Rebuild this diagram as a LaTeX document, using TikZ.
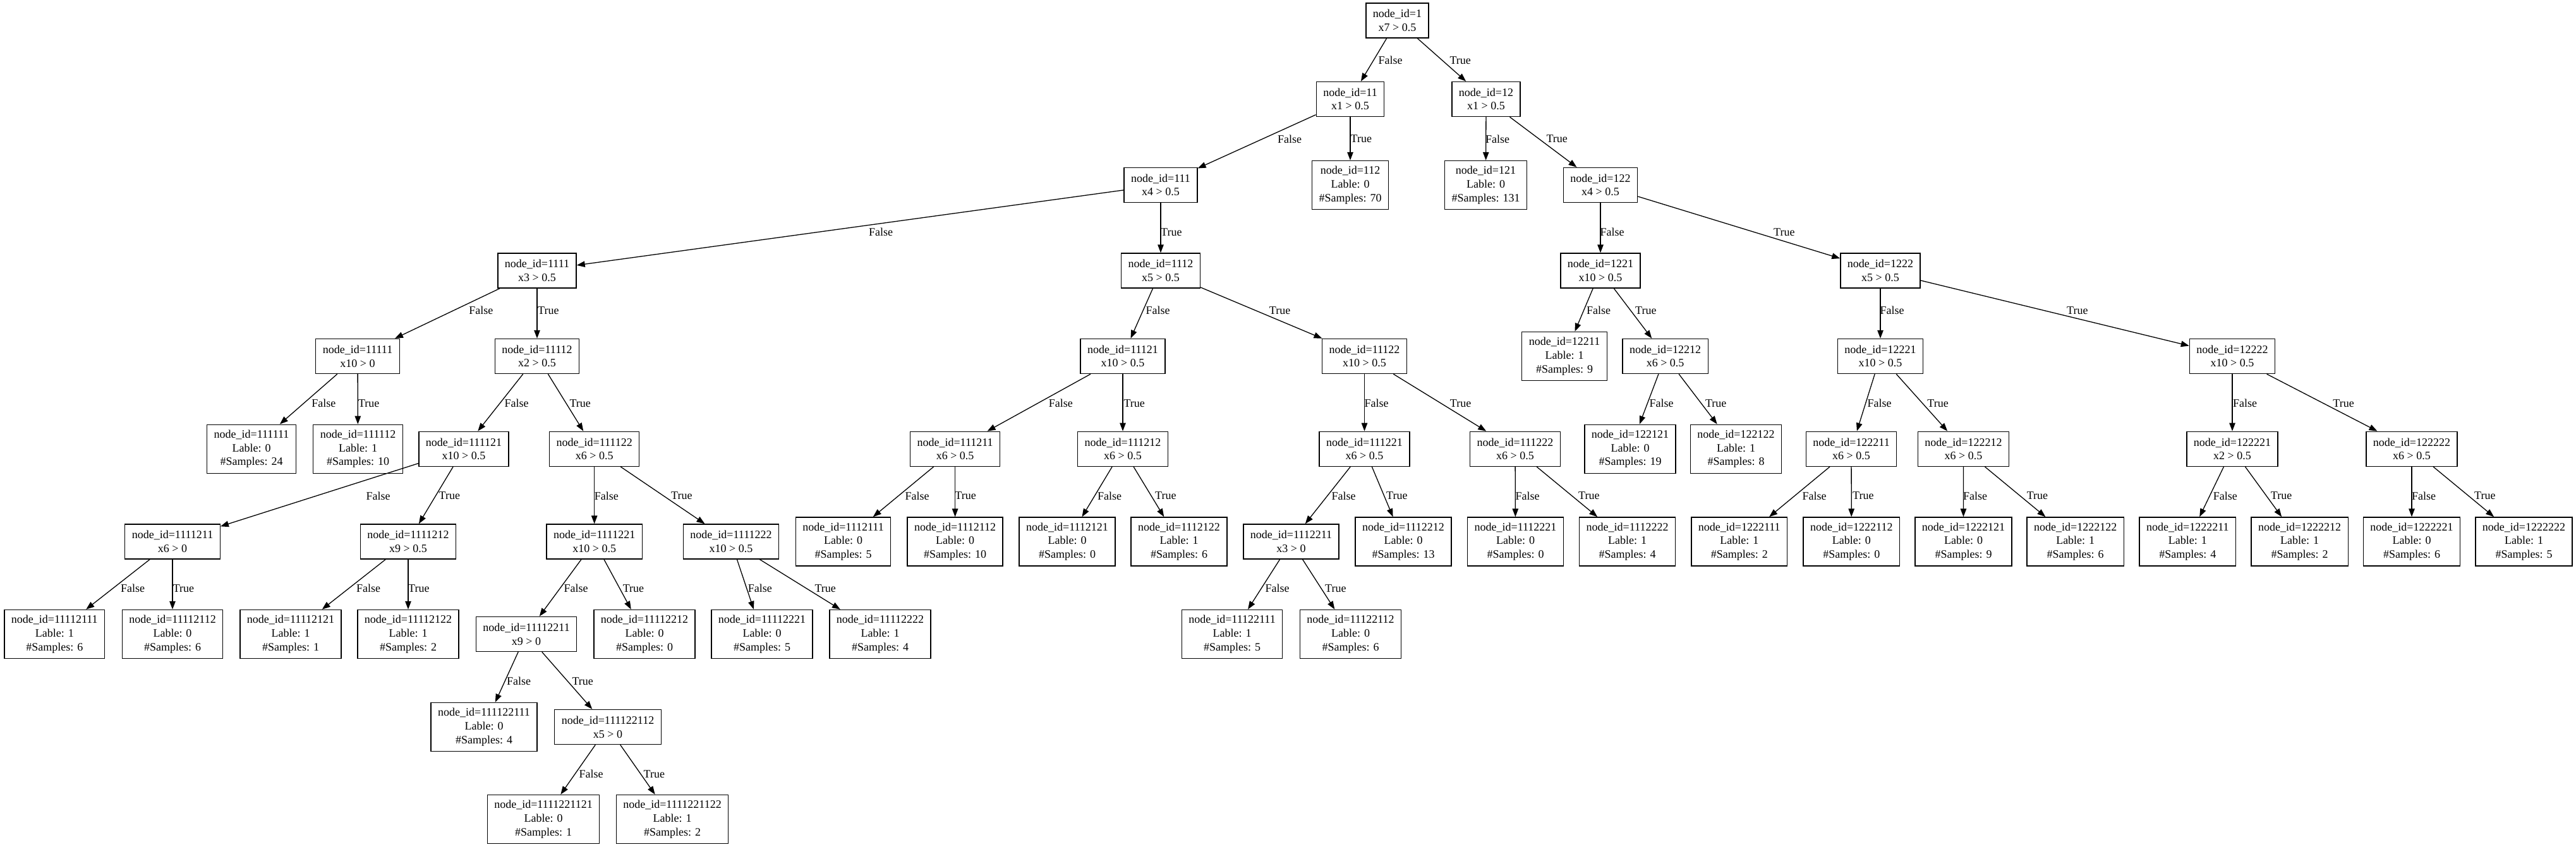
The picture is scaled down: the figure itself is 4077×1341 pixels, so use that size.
\documentclass[tikz,border=0pt]{standalone}
\usepackage{fontspec}
\setmainfont{Liberation Serif}
\usetikzlibrary{arrows.meta}
\newcommand\INode[4]{\node[inode] (n#1) at (#2,#3) {node\_id=#1\\#4};}
\newcommand\LNode[5]{\node[lnode] (n#1) at (#2,#3) {node\_id=#1\\Lable: #4\\\#Samples: #5};}
\newcommand\TreeEdge[5]{\draw[tarrow] (n#1) -- (n#2); \node[elab] (l#2) at (#4,#5) {#3};}
\begin{document}
\begin{tikzpicture}[x=1pt,y=-1pt,
  every node/.style={font=\fontsize{18}{21.7}\selectfont},
  box/.style={draw=black, line width=1.4pt, rectangle, inner xsep=11pt, inner ysep=0pt, align=center},
  inode/.style={box, minimum height=55pt},
  lnode/.style={box, minimum height=77pt},
  tarrow/.style={line width=1.3pt, -{Triangle[length=13pt,width=9.5pt]}},
  elab/.style={anchor=west, inner sep=0pt}]
\fill[white] (0,0) rectangle (4077,1341);
\useasboundingbox (0,0) rectangle (4077,1341);
% rows
\def\RA{32.5}\def\RB{157}\def\RC{293}\def\RD{428.5}\def\RE{564}
\def\RF{710.8}\def\RG{857.5}\def\RH{1004}\def\RI{1151}\def\RJ{1297}
\def\LA{95.7}\def\LB{220}\def\LC{367.6}\def\LD{491.7}\def\LE{638.3}
\def\LF{785}\def\LG{931.7}\def\LH{1078.3}\def\LI{1225.7}
% nodes
\INode{1}{2211.5}{\RA}{x7 > 0.5}
\INode{11}{2137}{\RB}{x1 > 0.5}
\INode{12}{2352}{\RB}{x1 > 0.5}
\INode{111}{1837}{\RC}{x4 > 0.5}
\LNode{112}{2137}{\RC}{0}{70}
\LNode{121}{2351.5}{\RC}{0}{131}
\INode{122}{2533}{\RC}{x4 > 0.5}
\INode{1111}{850}{\RD}{x3 > 0.5}
\INode{1112}{1837}{\RD}{x5 > 0.5}
\INode{1221}{2533}{\RD}{x10 > 0.5}
\INode{1222}{2976}{\RD}{x5 > 0.5}
\INode{11111}{566}{\RE}{x10 > 0}
\INode{11112}{850}{\RE}{x2 > 0.5}
\INode{11121}{1777}{\RE}{x10 > 0.5}
\INode{11122}{2159.5}{\RE}{x10 > 0.5}
\LNode{12211}{2476}{\RE}{1}{9}
\INode{12212}{2635.6}{\RE}{x6 > 0.5}
\INode{12221}{2976}{\RE}{x10 > 0.5}
\INode{12222}{3533}{\RE}{x10 > 0.5}
\LNode{111111}{398}{\RF}{0}{24}
\LNode{111112}{566.5}{\RF}{1}{10}
\INode{111121}{734}{\RF}{x10 > 0.5}
\INode{111122}{940.7}{\RF}{x6 > 0.5}
\INode{111211}{1511.6}{\RF}{x6 > 0.5}
\INode{111212}{1777}{\RF}{x6 > 0.5}
\INode{111221}{2159.5}{\RF}{x6 > 0.5}
\INode{111222}{2398}{\RF}{x6 > 0.5}
\LNode{122121}{2580}{\RF}{0}{19}
\LNode{122122}{2747.5}{\RF}{1}{8}
\INode{122211}{2930}{\RF}{x6 > 0.5}
\INode{122212}{3107.4}{\RF}{x6 > 0.5}
\INode{122221}{3533}{\RF}{x2 > 0.5}
\INode{122222}{3817}{\RF}{x6 > 0.5}
\INode{1111211}{273}{\RG}{x6 > 0}
\INode{1111212}{646}{\RG}{x9 > 0.5}
\INode{1111221}{940.7}{\RG}{x10 > 0.5}
\INode{1111222}{1157}{\RG}{x10 > 0.5}
\LNode{1112111}{1334.5}{\RG}{0}{5}
\LNode{1112112}{1511.6}{\RG}{0}{10}
\LNode{1112121}{1689}{\RG}{0}{0}
\LNode{1112122}{1866}{\RG}{1}{6}
\INode{1112211}{2043.5}{\RG}{x3 > 0}
\LNode{1112212}{2221}{\RG}{0}{13}
\LNode{1112221}{2398.5}{\RG}{0}{0}
\LNode{1112222}{2575.6}{\RG}{1}{4}
\LNode{1222111}{2752.8}{\RG}{1}{2}
\LNode{1222112}{2930.3}{\RG}{0}{0}
\LNode{1222121}{3107.5}{\RG}{0}{9}
\LNode{1222122}{3284.7}{\RG}{1}{6}
\LNode{1222211}{3462.3}{\RG}{1}{4}
\LNode{1222212}{3639.6}{\RG}{1}{2}
\LNode{1222221}{3817}{\RG}{0}{6}
\LNode{1222222}{3994.5}{\RG}{1}{5}
\LNode{11112111}{86.3}{\RH}{1}{6}
\LNode{11112112}{273}{\RH}{0}{6}
\LNode{11112121}{460}{\RH}{1}{1}
\LNode{11112122}{646}{\RH}{1}{2}
\INode{11112211}{833}{\RH}{x9 > 0}
\LNode{11112212}{1020}{\RH}{0}{0}
\LNode{11112221}{1206}{\RH}{0}{5}
\LNode{11112222}{1393}{\RH}{1}{4}
\LNode{11122111}{1950}{\RH}{1}{5}
\LNode{11122112}{2137.5}{\RH}{0}{6}
\LNode{111122111}{766}{\RI}{0}{4}
\INode{111122112}{962}{\RI}{x5 > 0}
\LNode{1111221121}{860}{\RJ}{0}{1}
\LNode{1111221122}{1064}{\RJ}{1}{2}
% edges
\TreeEdge{1}{11}{False}{2181.5}{\LA}
\TreeEdge{1}{12}{True}{2294.4}{\LA}
\TreeEdge{11}{111}{False}{2022}{\LB}
\TreeEdge{11}{112}{True}{2137.5}{\LB}
\TreeEdge{12}{121}{False}{2351}{\LB}
\TreeEdge{12}{122}{True}{2447.4}{\LB}
\TreeEdge{111}{1111}{False}{1375}{\LC}
\TreeEdge{111}{1112}{True}{1837}{\LC}
\TreeEdge{122}{1221}{False}{2532.3}{\LC}
\TreeEdge{122}{1222}{True}{2807}{\LC}
\TreeEdge{1111}{11111}{False}{742.2}{\LD}
\TreeEdge{1111}{11112}{True}{851}{\LD}
\TreeEdge{1112}{11121}{False}{1813.5}{\LD}
\TreeEdge{1112}{11122}{True}{2008.7}{\LD}
\TreeEdge{1221}{12211}{False}{2511}{\LD}
\TreeEdge{1221}{12212}{True}{2588}{\LD}
\TreeEdge{1222}{12221}{False}{2975.5}{\LD}
\TreeEdge{1222}{12222}{True}{3271}{\LD}
\TreeEdge{11111}{111111}{False}{493.2}{\LE}
\TreeEdge{11111}{111112}{True}{566.8}{\LE}
\TreeEdge{11112}{111121}{False}{798.3}{\LE}
\TreeEdge{11112}{111122}{True}{901.4}{\LE}
\TreeEdge{11121}{111211}{False}{1659.7}{\LE}
\TreeEdge{11121}{111212}{True}{1778.3}{\LE}
\TreeEdge{11122}{111221}{False}{2159.4}{\LE}
\TreeEdge{11122}{111222}{True}{2294.7}{\LE}
\TreeEdge{12212}{122121}{False}{2610.4}{\LE}
\TreeEdge{12212}{122122}{True}{2698.8}{\LE}
\TreeEdge{12221}{122211}{False}{2955.5}{\LE}
\TreeEdge{12221}{122212}{True}{3050.2}{\LE}
\TreeEdge{12222}{122221}{False}{3533.9}{\LE}
\TreeEdge{12222}{122222}{True}{3692.2}{\LE}
\TreeEdge{111121}{1111211}{False}{579.4}{\LF}
\TreeEdge{111121}{1111212}{True}{694.5}{\LF}
\TreeEdge{111122}{1111221}{False}{940.7}{\LF}
\TreeEdge{111122}{1111222}{True}{1062}{\LF}
\TreeEdge{111211}{1112111}{False}{1432.4}{\LF}
\TreeEdge{111211}{1112112}{True}{1511.2}{\LF}
\TreeEdge{111212}{1112121}{False}{1737}{\LF}
\TreeEdge{111212}{1112122}{True}{1828}{\LF}
\TreeEdge{111221}{1112211}{False}{2107.5}{\LF}
\TreeEdge{111221}{1112212}{True}{2194}{\LF}
\TreeEdge{111222}{1112221}{False}{2398.5}{\LF}
\TreeEdge{111222}{1112222}{True}{2498}{\LF}
\TreeEdge{122211}{1222111}{False}{2852.3}{\LF}
\TreeEdge{122211}{1222112}{True}{2932}{\LF}
\TreeEdge{122212}{1222121}{False}{3107}{\LF}
\TreeEdge{122212}{1222122}{True}{3207.6}{\LF}
\TreeEdge{122221}{1222211}{False}{3502.6}{\LF}
\TreeEdge{122221}{1222212}{True}{3593.7}{\LF}
\TreeEdge{122222}{1222221}{False}{3816.9}{\LF}
\TreeEdge{122222}{1222222}{True}{3915.9}{\LF}
\TreeEdge{1111211}{11112111}{False}{190.8}{\LG}
\TreeEdge{1111211}{11112112}{True}{273.6}{\LG}
\TreeEdge{1111212}{11112121}{False}{564}{\LG}
\TreeEdge{1111212}{11112122}{True}{646}{\LG}
\TreeEdge{1111221}{11112211}{False}{892.3}{\LG}
\TreeEdge{1111221}{11112212}{True}{985.6}{\LG}
\TreeEdge{1111222}{11112221}{False}{1183.7}{\LG}
\TreeEdge{1111222}{11112222}{True}{1289.3}{\LG}
\TreeEdge{1112211}{11122111}{False}{2002.5}{\LG}
\TreeEdge{1112211}{11122112}{True}{2097}{\LG}
\TreeEdge{11112211}{111122111}{False}{802}{\LH}
\TreeEdge{11112211}{111122112}{True}{905.4}{\LH}
\TreeEdge{111122112}{1111221121}{False}{916.3}{\LI}
\TreeEdge{111122112}{1111221122}{True}{1018.5}{\LI}
\end{tikzpicture}
\end{document}
